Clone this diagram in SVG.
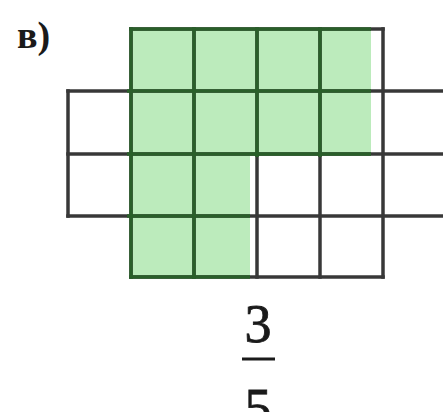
<svg xmlns="http://www.w3.org/2000/svg" width="443" height="412" viewBox="0 0 443 412">
  <style>
    .grid { stroke: #383838; stroke-width: 3.5; fill: none; stroke-linecap: square; }
    .gridg { stroke: #2a5f2a; stroke-width: 3.5; fill: none; stroke-linecap: square; }
    .fill { fill: #bcebbc; }
    .lbl { font-family: "Liberation Serif", "Times New Roman", serif; fill: #1a1a1a; }
    .num { stroke: #1a1a1a; stroke-width: 0.8; }
  </style>
  <defs>
    <clipPath id="gclip">
      <polygon points="127,25 371,25 371,157 250,157 250,281 127,281"/>
    </clipPath>
    <g id="lines">
      <line x1="131" y1="29" x2="383" y2="29"/>
      <line x1="68" y1="91" x2="445" y2="91"/>
      <line x1="68" y1="154" x2="445" y2="154"/>
      <line x1="68" y1="216" x2="445" y2="216"/>
      <line x1="131" y1="277" x2="383" y2="277"/>
      <line x1="68" y1="91" x2="68" y2="216"/>
      <line x1="131" y1="29" x2="131" y2="277"/>
      <line x1="194" y1="29" x2="194" y2="277"/>
      <line x1="257" y1="29" x2="257" y2="277"/>
      <line x1="320" y1="29" x2="320" y2="277"/>
      <line x1="383" y1="29" x2="383" y2="277"/>
    </g>
  </defs>
  <rect width="443" height="412" fill="#ffffff"/>
  <g id="shaded">
    <rect class="fill" x="131" y="29" width="240" height="127"/>
    <rect class="fill" x="131" y="154" width="119" height="123"/>
  </g>
  <g id="grid">
    <use href="#lines" class="grid"/>
    <use href="#lines" class="gridg" clip-path="url(#gclip)"/>
  </g>
  <text class="lbl" x="17" y="48" font-size="38" font-weight="bold">в)</text>
  <g id="fraction">
    <text class="lbl num" x="258" y="342" font-size="54" text-anchor="middle">3</text>
    <line x1="242" y1="359" x2="275" y2="359" stroke="#1a1a1a" stroke-width="3"/>
    <text class="lbl num" x="258" y="426" font-size="54" text-anchor="middle">5</text>
  </g>
</svg>
